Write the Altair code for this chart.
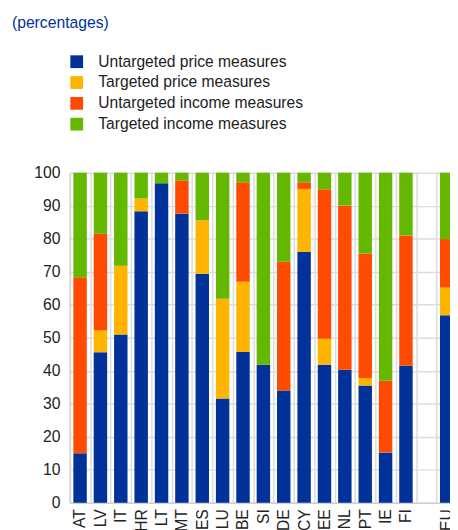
import altair as alt
import pandas as pd

countries = ["AT", "LV", "IT", "HR", "LT", "MT", "ES", "LU", "BE", "SI",
             "DE", "CY", "EE", "NL", "PT", "IE", "FI", "EU"]
domain = countries[:-1] + [" ", "EU"]

series = ["Untargeted price measures", "Targeted price measures",
          "Untargeted  income measures", "Targeted income measures"]
colors = ["#003299", "#FFB400", "#FF4B00", "#65B800"]

untargeted_price = [15.0, 45.6, 51.0, 88.3, 96.8, 87.6, 69.4, 31.6, 45.7, 41.8,
                    34.0, 76.0, 41.8, 40.3, 35.5, 15.2, 41.5, 56.8]
targeted_price = [0.0, 6.6, 20.8, 3.9, 0.0, 0.0, 16.2, 30.2, 21.3, 0.0,
                  0.0, 19.1, 7.9, 0.0, 2.3, 0.0, 0.0, 8.4]
untargeted_income = [53.3, 29.3, 0.0, 0.0, 0.0, 10.1, 0.0, 0.0, 30.1, 0.0,
                     39.0, 2.0, 45.3, 49.8, 37.7, 21.8, 39.5, 14.7]
targeted_income = [31.7, 18.5, 28.2, 7.8, 3.2, 2.3, 14.4, 38.2, 2.9, 58.2,
                   27.0, 2.9, 5.0, 9.9, 24.5, 63.0, 19.0, 20.1]

values = [untargeted_price, targeted_price, untargeted_income, targeted_income]
rows = []
for i, c in enumerate(countries):
    for j, s in enumerate(series):
        rows.append({"country": c, "series": s, "order": j, "value": values[j][i]})
df = pd.DataFrame(rows)

FONT = "Liberation Sans"
TXT = "#222222"
GRID = "#dcdcdc"

chart = alt.Chart(df).mark_bar(width={"band": 0.66}).encode(
    x=alt.X("country:N", sort=domain,
            scale=alt.Scale(domain=domain, range=[0, 394], paddingInner=0, paddingOuter=0),
            axis=alt.Axis(title=None, labelAngle=-90, labelAlign="right", labelBaseline="middle",
                          labelPadding=6, ticks=False, grid=True, tickBand="extent",
                          gridColor=GRID, gridWidth=1.5, domainColor="#d0d0d0", domainWidth=1.5,
                          labelFontSize=16, labelColor=TXT, labelFont=FONT)),
    y=alt.Y("value:Q", stack="zero",
            scale=alt.Scale(domain=[0, 100], nice=False),
            axis=alt.Axis(title=None, values=list(range(0, 101, 10)), ticks=False,
                          labelPadding=10, labelFontSize=16, labelColor=TXT, labelFont=FONT,
                          gridColor=GRID, gridWidth=1.5, domainColor="#d0d0d0", domainWidth=1.5)),
    color=alt.Color("series:N", scale=alt.Scale(domain=series, range=colors),
                    legend=alt.Legend(title=None, orient="none", legendX=-1, legendY=-121,
                                      symbolType="square", symbolSize=169, symbolStrokeWidth=0,
                                      symbolOpacity=1, labelFontSize=15.9, labelFont=FONT,
                                      labelColor=TXT, labelOffset=14, rowPadding=4.2, padding=0,
                                      labelLimit=0)),
    order=alt.Order("order:Q"),
).properties(
    width=371, height=336,
    title=alt.TitleParams("(percentages)", anchor="start", frame="group", fontSize=16,
                          fontWeight="normal", color="#003299", font=FONT, dx=-59, dy=-10.5,
                          offset=0, baseline="alphabetic"),
    autosize=alt.AutoSizeParams(type="none"),
    padding={"left": 63, "top": 163, "right": 16, "bottom": 23},
).configure_view(stroke="transparent")

chart.save("out.html", embed_options={"renderer": "svg", "actions": False})
